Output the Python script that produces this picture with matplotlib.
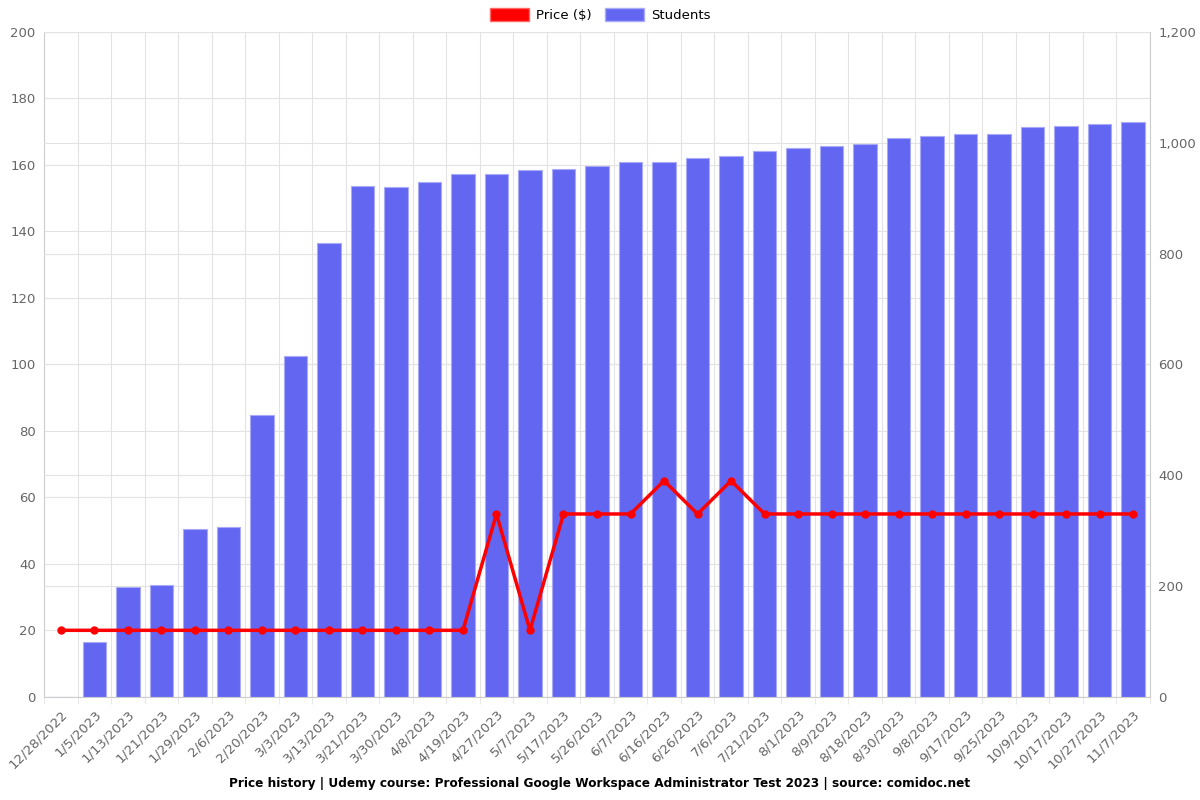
import matplotlib
matplotlib.use("Agg")
import matplotlib.pyplot as plt
import matplotlib.ticker as mticker
from matplotlib.patches import Patch
import numpy as np

dates = ["12/28/2022", "1/5/2023", "1/13/2023", "1/21/2023", "1/29/2023", "2/6/2023",
         "2/20/2023", "3/3/2023", "3/13/2023", "3/21/2023", "3/30/2023", "4/8/2023",
         "4/19/2023", "4/27/2023", "5/7/2023", "5/17/2023", "5/26/2023", "6/7/2023",
         "6/16/2023", "6/26/2023", "7/6/2023", "7/21/2023", "8/1/2023", "8/9/2023",
         "8/18/2023", "8/30/2023", "9/8/2023", "9/17/2023", "9/25/2023", "10/9/2023",
         "10/17/2023", "10/27/2023", "11/7/2023"]
price = [20, 20, 20, 20, 20, 20, 20, 20, 20, 20, 20, 20, 20, 55, 20, 55, 55, 55,
         65, 55, 65, 55, 55, 55, 55, 55, 55, 55, 55, 55, 55, 55, 55]
students = [0, 99, 199, 202, 303, 307, 509, 615, 820, 922, 921, 929, 944, 944, 950,
            952, 958, 965, 966, 972, 977, 985, 991, 995, 998, 1008, 1013, 1015, 1016,
            1028, 1031, 1034, 1037]

bar_color = "#6366f1"
grid_color = "#e3e3e3"
tick_color = "#666666"

x = np.arange(len(dates))

fig = plt.figure(figsize=(12, 8), dpi=100)
rect = [0.0367, 0.129, 0.9216, 0.831]

# bottom axes: price scale + its grid
ax_p = fig.add_axes(rect)
ax_p.set_xlim(-0.5, len(dates) - 0.5)
ax_p.set_ylim(0, 200)
ax_p.yaxis.set_major_locator(mticker.MultipleLocator(20))
ax_p.set_xticks(x)
ax_p.set_xticklabels(dates, rotation=45, ha="right", rotation_mode="anchor")
ax_p.set_xticks(np.arange(-0.5, len(dates)), minor=True)
ax_p.tick_params(axis="x", which="major", length=0, pad=8, labelsize=9.5, labelcolor=tick_color)
ax_p.tick_params(axis="x", which="minor", length=5, color=grid_color)
ax_p.tick_params(axis="y", length=0, pad=6, labelsize=9.5, labelcolor=tick_color)
ax_p.grid(True, axis="y", color=grid_color, linewidth=0.8)
ax_p.grid(True, axis="x", which="minor", color=grid_color, linewidth=0.8)
for s in ["top", "right", "bottom"]:
    ax_p.spines[s].set_visible(False)
ax_p.spines["left"].set_color("#cccccc")

# students bars
ax_s = ax_p.twinx()
ax_s.set_ylim(0, 1200)
ax_s.yaxis.set_major_locator(mticker.MultipleLocator(200))
ax_s.yaxis.set_major_formatter(mticker.FuncFormatter(lambda v, p: f"{int(v):,}"))
ax_s.set_axisbelow(True)
ax_s.grid(True, axis="y", color=grid_color, linewidth=0.8)
ax_s.bar(x, students, width=0.7, color=bar_color, edgecolor="#a9abf7", linewidth=0.8, zorder=2)
ax_s.tick_params(axis="y", length=0, pad=6, labelsize=9.5, labelcolor=tick_color)
ax_s.spines["top"].set_visible(False)
ax_s.spines["left"].set_visible(False)
ax_s.spines["bottom"].set_color("#cccccc")
ax_s.spines["right"].set_color("#cccccc")

# price line on top
ax_l = ax_p.twinx()
ax_l.set_ylim(0, 200)
ax_l.set_axis_off()
ax_l.plot(x, price, color="#ff0000", linewidth=2.5, marker="o", markersize=5, zorder=3)

handles = [Patch(facecolor="#ff0000", edgecolor="#ff6666", label="Price ($)"),
           Patch(facecolor=bar_color, edgecolor="#a9abf7", label="Students")]
fig.legend(handles=handles, loc="upper center", bbox_to_anchor=(0.5, 1.005), ncol=2,
           frameon=False, fontsize=9.5, handlelength=3, handleheight=1.1,
           handletextpad=0.5, columnspacing=1.0)

fig.text(0.5, 0.021, "Price history | Udemy course: Professional Google Workspace Administrator Test 2023 | source: comidoc.net",
         ha="center", va="center", fontsize=8.7, fontweight="bold")

fig.savefig("out.png", dpi=100)
